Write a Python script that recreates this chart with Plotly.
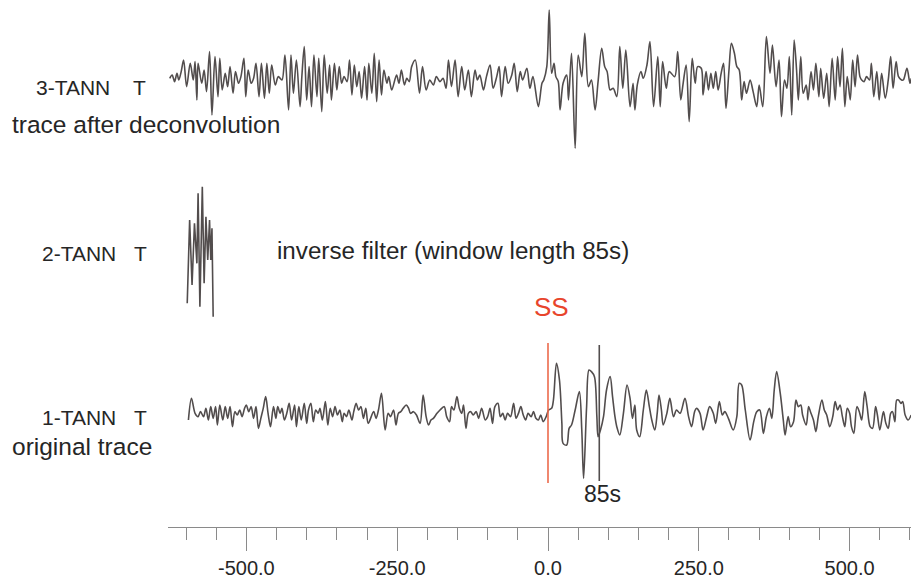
import plotly.graph_objects as go

# ---- 3-TANN T : trace after deconvolution (time in s, amplitude in counts)
t_decon = [
    -627, -623, -619, -615, -612, -608, -604, -599, -593, -588,
    -585, -582, -580, -574, -570, -566, -561, -557, -552, -547,
    -544, -540, -535, -531, -527, -522, -518, -513, -509, -504,
    -501, -497, -492, -488, -484, -479, -475, -470, -466, -462,
    -458, -452, -447, -441, -436, -430, -426, -422, -417, -411,
    -408, -404, -400, -396, -392, -388, -383, -380, -375, -371,
    -366, -362, -359, -354, -350, -346, -342, -338, -333, -329,
    -325, -321, -317, -313, -309, -304, -300, -297, -292, -288,
    -284, -280, -276, -272, -267, -264, -259, -251, -247, -243,
    -238, -234, -230, -226,
    -220, -213, -208, -202, -196, -190, -185, -179, -174, -169,
    -165, -160, -154, -149, -143, -138, -132, -127, -121, -117,
    -113, -107, -102, -96, -91, -85, -81, -77, -71, -66,
    -60, -56, -51, -46, -42, -35, -30, -25, -16, -10,
    -7, -2, 2, 6, 10, 13, 17, 20, 25, 31,
    34, 39, 45, 50, 56, 61, 67, 72, 78, 83,
    89, 94, 98, 103, 108, 114, 119, 124, 129, 136,
    141, 144, 148, 154, 158, 164,
    169, 175, 182, 186, 190, 196, 201, 210, 215, 220,
    224, 229, 234, 239, 244, 248, 254, 257, 262, 266,
    270, 274, 278, 282, 287, 291, 295, 300, 304, 309,
    313, 317, 321, 325, 329, 335, 340, 346, 350, 356,
    362, 368, 372, 378, 383, 387, 392, 396, 400, 404,
    408, 412, 415, 419, 423, 428, 431, 436, 440, 444,
    449, 452, 457, 462, 466, 471, 476, 480, 484, 488,
    492, 496, 501, 505, 509, 513, 517, 520, 524, 528,
    533, 536, 540, 545, 549, 553, 559, 564, 568, 572,
    577, 581, 586, 589, 595, 600, 602,
]
a_decon = [
    0, 10, -10, 15, -5, 20, 55, -25, 45, -5,
    50, -65, 45, -15, 25, -40, 80, -110, 65, -55,
    60, -35, 15, -25, 35, -45, 20, -15, 5, 60,
    -55, 25, -15, 0, 45, -55, 45, -60, 45, -45,
    40, -20, 5, -5, 70, -95, 70, -45, 55, -85,
    5, 95, -65, 35, -85, 70, -55, 60, -100, 70,
    -45, 40, -65, 45, -35, 35, -15, 5, -10, 55,
    -50, 40, -25, 20, -60, 35, -65, 45, -45, 75,
    -70, 55, -50, 25, -15, 5, -35, 10, -15, 25,
    -20, 0, -10, 35,
    55, -45, 35, -35, -5, -20, 5, -10, 0, -30,
    55, -25, 55, -55, 35, -35, 25, -55, 25, -5,
    10, -35, 5, 40, -30, 5, 35, -55, 35, -15,
    10, 45, -40, 20, -5, 30, -30, 5, -85, -15,
    -5, 35, 205, 15, 45, 5, -10, -95, -15, 10,
    -65, 75, -210, 70, 5, 135, -25, -5, -95, -10,
    90, 35, 20, -35, -30, -55, 95, -30, 85, -85,
    -15, -95, -20, 20, 0, 40,
    110, -85, 65, -85, 50, -30, 20, 5, 80, -65,
    -15, 40, -130, 60, -15, 35, 30, -50, 20, -35,
    15, -30, 20, -35, 15, 45, -90, 25, 105, 75,
    35, 25, -65, -10, -45, -5, -40, -85, -20, -85,
    125, 15, 100, -25, 55, -115, -5, -30, 65, -110,
    115, 25, -65, 65, -45, -20, -65, 20, -35, 45,
    -55, 30, -60, 15, -85, 60, -65, 65, -25, 90,
    -85, 5, -65, 55, -25, 70, 5, -5, -10, 5,
    -5, 45, -55, 20, -65, 15, -60, -5, 65, -30,
    50, 5, -5, -5, 30, -15, 0,
]

# ---- 2-TANN T : inverse filter
t_filter = [-598, -594, -590, -586, -582, -580, -577, -573, -570, -567,
            -564, -561, -559, -557, -555]
a_filter = [-160, 90, -105, 80, -40, 170, -170, 190, -100, 100,
            -30, 90, -30, 65, -200]

# ---- 1-TANN T : original trace
t_orig = [
    -596, -591, -585, -580, -576, -571, -567, -563, -559, -555,
    -551, -548, -544, -539, -535, -531, -527, -523, -519, -515,
    -511, -507, -503, -500, -496, -492, -488, -484, -480, -476,
    -472, -468, -464, -460, -455, -451, -448, -444, -441, -437,
    -433, -429, -425, -420, -417, -413, -409, -404, -400, -397,
    -393, -389, -385, -381, -378, -374, -369, -365, -361, -357,
    -353, -349, -345, -341, -338, -334, -330, -325, -322, -318,
    -314, -310, -306, -302, -298,
    -289, -285, -281, -276, -270, -265, -261, -256, -252, -248,
    -244, -240, -235, -231, -228, -223, -218, -212, -207, -202,
    -198, -194, -190, -184, -179, -172, -168, -163, -160, -156,
    -151, -147, -143, -140, -136, -132, -128, -124, -119, -115,
    -110, -104, -100, -96, -92, -88, -83, -79, -75, -71,
    -67, -62, -57, -53, -49, -45, -41, -37, -33, -28,
    -24, -20, -16, -12, -8, -3,
    1, 6, 9, 14, 19, 23, 25, 31, 35, 39,
    45, 52, 56, 59, 64, 68, 72, 77, 81, 83,
    87, 92, 97, 103, 107, 111, 114, 119, 125, 131,
    136, 140, 144, 147, 152, 158, 163, 168, 172, 177,
    181, 184, 188, 191, 197, 202, 208, 213, 219, 227,
    233, 238, 243, 246, 252, 257, 263, 268, 274, 278,
    284, 289, 293, 299,
    307, 313, 317, 321, 327, 335, 341, 346, 351, 357,
    362, 367, 371, 375, 379, 385, 390, 393, 398, 402,
    407, 411, 415, 419, 422, 428, 432, 435, 440, 444,
    448, 454, 458, 462, 467, 472, 476, 480, 484, 488,
    492, 496, 500, 503, 507, 512, 516, 520, 525, 529,
    534, 538, 543, 546, 550, 556, 560, 564, 568, 571,
    575, 578, 581, 585, 588, 592, 597, 602,
]
a_orig = [
    -30, 35, -10, -20, -5, -20, 5, -30, 10, -25,
    10, -45, 15, -30, 10, -25, 10, -50, -5, -15,
    0, -20, 5, 15, -5, 10, -25, 10, -55, -25,
    5, 40, -10, -50, 10, -25, 10, -10, 5, -30,
    -10, 20, -30, 15, -50, 10, -30, 20, -40, 0,
    20, -35, 0, -10, 5, -30, 25, -45, 5, -20,
    10, -15, 0, -35, -10, -20, 0, -30, -5, 20,
    0, 10, -25, 5, -40,
    -5, -25, 0, 50, -60, -10, -20, 0, -45, -10,
    -5, 5, 15, 5, -10, -5, -15, -40, 45, -20,
    -45, -30, -25, -10, 0, 10, -20, -35, 10, 0,
    40, 5, -10, 15, -55, -10, -5, -15, -5, -25,
    5, -30, -20, 5, -40, 10, 20, -20, -10, -30,
    -10, -20, 20, -25, -10, 10, -15, -30, -10, -20,
    -5, -25, -30, -15, -35, -20,
    0, 5, 30, 140, 90, -40, -100, -105, -55, -45,
    0, 55, -60, -205, 10, 120, 115, 100, -20, -80,
    -60, -20, 60, 100, 40, -20, -50, -75, -10, 75,
    35, -25, 15, -60, -80, 0, 60, 10, -30, -60,
    -10, 45, 0, -45, -10, 35, -20, 0, -10, 35,
    -20, -50, -5, 5, -10, -60, -20, 10, -10, -40,
    25, -15, -5, -25,
    -60, -20, 80, 75, 0, -90, -35, -5, 0, -70,
    -20, 5, -25, 60, 115, 50, -30, -75, -20, -50,
    -35, 30, 10, 15, -15, -45, 10, -5, -30, -65,
    -20, 30, 0, -15, -50, -20, 25, 0, 15, -20,
    -50, 5, -10, -50, -70, 10, -5, -30, 55, 10,
    -50, -55, 10, -15, -60, -5, -40, -55, -10, -5,
    -35, 30, 30, 20, 25, -15, -30, -15,
]

# phase pick and marked lag
ss_time = 0
lag_time = 85

tick_vals = [-500, -250, 0, 250, 500]
tick_text = ["-500.0", "-250.0", "0.0", "250.0", "500.0"]

# ---- layout constants (figure in pixels)
W, H = 911, 578
ML, MB = 168, 51
PLOT_H = H - MB
PX_PER_S = 0.6033
T0_PX = 548
GAIN = 1.0 / 3.0          # pixels per count
FONT = "Liberation Sans, Arial, Helvetica, sans-serif"
TRACE_COL = "#524d4d"
TEXT_COL = "#262626"

fig = go.Figure()

traces = [
    (t_decon, a_decon, 78.3, "spline"),
    (t_filter, a_filter, 250.0, "linear"),
    (t_orig, a_orig, 410.0, "spline"),
]
for t, a, base, shape in traces:
    fig.add_trace(go.Scatter(
        x=t, y=[-base + GAIN * v for v in a], mode="lines",
        line=dict(color=TRACE_COL, width=1.6, shape=shape, smoothing=0.9),
        hoverinfo="skip", showlegend=False,
    ))

# SS onset marker and 85 s lag marker
fig.add_shape(type="line", xref="x", yref="y", x0=ss_time, x1=ss_time, y0=-343, y1=-483,
              line=dict(color="#ec6a4c", width=1.6))
fig.add_shape(type="line", xref="x", yref="y", x0=lag_time, x1=lag_time, y0=-345, y1=-481,
              line=dict(color=TRACE_COL, width=1.6))


def px(x):
    return (x - ML) / (W - ML)


def note(text, x, y, size, anchor="left", color=TEXT_COL):
    fig.add_annotation(text=text, xref="paper", yref="y", x=px(x), y=-y,
                       xanchor=anchor, yanchor="middle", showarrow=False,
                       font=dict(family=FONT, size=size, color=color))


note("3-TANN", 112, 87, 21, "right")
note("T", 148, 87, 21, "right")
note("trace after deconvolution", 10, 124, 24.5)
note("2-TANN", 118, 253, 21, "right")
note("T", 149, 253, 21, "right")
note("inverse filter (window length 85s)", 275, 250, 24.2)
note("1-TANN", 118, 417, 21, "right")
note("T", 149, 417, 21, "right")
note("original trace", 10, 446, 24.5)

fig.add_annotation(text="SS", xref="x", yref="y", x=ss_time + 6, y=-307, xanchor="center",
                   yanchor="middle", showarrow=False, font=dict(family=FONT, size=26, color="#e8452c"))
fig.add_annotation(text="85s", xref="x", yref="y", x=lag_time + 5, y=-494, xanchor="center",
                   yanchor="middle", showarrow=False, font=dict(family=FONT, size=23, color=TEXT_COL))

x0 = (ML - T0_PX) / PX_PER_S
x1 = (W - T0_PX) / PX_PER_S

fig.update_layout(
    width=W, height=H,
    margin=dict(l=ML, r=0, t=0, b=MB, pad=0),
    paper_bgcolor="white", plot_bgcolor="white",
    xaxis=dict(
        range=[x0, x1], showgrid=False, zeroline=False,
        showline=True, linecolor="#8a8a8a", linewidth=1.2,
        tickmode="array", tickvals=tick_vals, ticktext=tick_text,
        ticks="outside", ticklen=23, tickwidth=1.2, tickcolor="#8a8a8a",
        tickfont=dict(family=FONT, size=20, color=TEXT_COL),
        minor=dict(tickmode="array", tickvals=list(range(-600, 601, 50)),
                   ticks="outside", ticklen=12, tickwidth=1.2, tickcolor="#8a8a8a"),
        fixedrange=True,
    ),
    yaxis=dict(range=[-PLOT_H, 0], visible=False, fixedrange=True),
)

fig.write_html("out.html")
